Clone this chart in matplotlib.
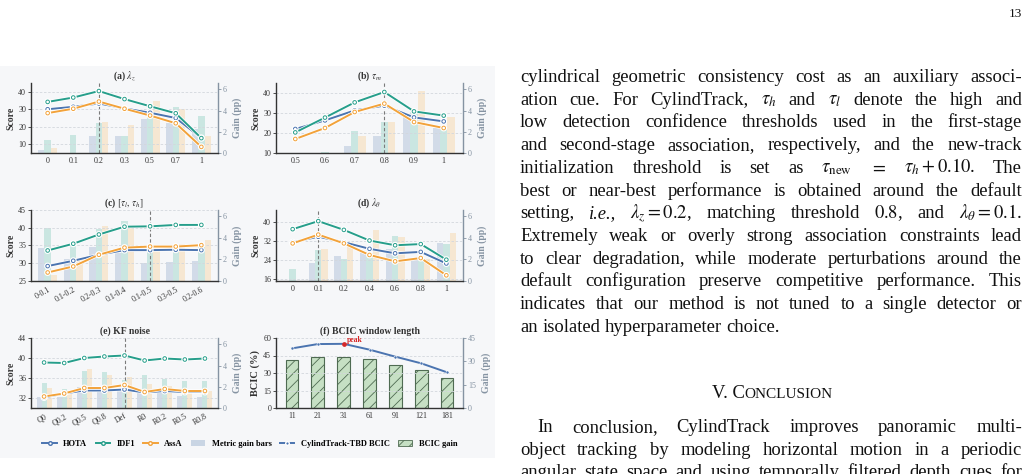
import matplotlib
matplotlib.use("Agg")
import matplotlib.pyplot as plt
import matplotlib.patheffects as pe
from matplotlib.patches import Rectangle, Patch
from matplotlib.lines import Line2D
import numpy as np

plt.rcParams['font.family'] = ['Liberation Serif', 'DejaVu Serif']
plt.rcParams['mathtext.fontset'] = 'stix'
plt.rcParams['hatch.linewidth'] = 0.6

W, H = 1031, 474

# ---- data ----
a_labels = ["0", "0.1", "0.2", "0.3", "0.5", "0.7", "1"]
a_hota = [30.0, 31.4, 33.3, 30.5, 28.0, 25.0, 13.6]
a_idf1 = [34.2, 36.7, 40.4, 35.8, 31.7, 27.7, 13.5]
a_assa = [27.8, 30.3, 34.4, 30.3, 26.4, 22.0, 8.5]
a_g_hota = [0.25, 0.0, 1.6, 1.6, 3.2, 2.8, 2.3]
a_g_idf1 = [1.2, 1.7, 2.8, 1.65, 3.8, 4.3, 3.5]
a_g_assa = [0.5, 0.0, 2.9, 2.6, 4.9, 4.15, 1.6]

b_labels = ["0.5", "0.6", "0.7", "0.8", "0.9", "1"]
b_hota = [22.0, 26.3, 31.3, 33.7, 27.8, 25.8]
b_idf1 = [20.3, 27.7, 35.3, 40.5, 30.8, 28.7]
b_assa = [17.0, 22.5, 30.5, 34.7, 25.5, 22.5]
b_g_hota = [0.0, 0.0, 0.7, 1.65, 3.6, 2.4]
b_g_idf1 = [0.0, 0.1, 2.05, 2.9, 3.9, 2.5]
b_g_assa = [0.0, 0.0, 1.65, 2.95, 5.8, 3.35]

c_labels = ["0-0.1", "0.1-0.2", "0.2-0.3", "0.1-0.4", "0.1-0.5", "0.3-0.5", "0.2-0.6"]
c_hota = [29.2, 30.7, 32.4, 33.7, 33.7, 33.8, 33.7]
c_idf1 = [33.6, 35.5, 38.1, 40.3, 40.4, 40.8, 40.8]
c_assa = [27.4, 29.1, 32.4, 34.4, 34.7, 34.7, 35.1]
c_g_hota = [3.1, 2.05, 3.2, 2.6, 1.65, 1.8, 1.85]
c_g_idf1 = [4.9, 3.6, 4.8, 5.55, 3.0, 3.05, 3.2]
c_g_assa = [0.6, 2.1, 5.15, 5.1, 2.9, 3.45, 3.85]

d_labels = ["0", "0.1", "0.2", "0.4", "0.6", "0.8", "1"]
d_hota = [31.4, 33.7, 31.4, 28.6, 26.7, 27.3, 22.4]
d_idf1 = [36.9, 40.3, 36.6, 32.1, 30.1, 30.6, 24.0]
d_assa = [30.9, 34.6, 30.9, 26.0, 23.3, 24.7, 17.4]
d_g_hota = [0.0, 1.7, 2.3, 2.65, 3.0, 2.1, 3.55]
d_g_idf1 = [1.1, 2.9, 2.0, 2.6, 4.2, 2.3, 3.4]
d_g_assa = [0.0, 3.0, 3.6, 4.7, 4.05, 2.0, 4.5]

e_labels = ["Q0", "Q0.2", "Q0.5", "Q0.8", "Def", "R0", "R0.2", "R0.5", "R0.8"]
e_hota = [32.1, 32.9, 33.5, 33.5, 33.7, 33.1, 33.4, 33.2, 33.2]
e_idf1 = [39.1, 39.0, 40.0, 40.3, 40.5, 39.5, 39.9, 39.7, 39.9]
e_assa = [32.3, 32.9, 34.0, 34.0, 34.6, 33.2, 33.8, 33.4, 33.4]
e_g_hota = [1.0, 1.0, 2.0, 1.7, 1.7, 1.5, 1.4, 1.15, 1.0]
e_g_idf1 = [2.4, 1.8, 3.45, 3.4, 2.65, 3.1, 2.75, 2.55, 2.5]
e_g_assa = [1.9, 1.35, 3.7, 3.1, 2.95, 2.3, 2.1, 1.6, 1.6]

f_labels = ["11", "21", "31", "61", "91", "121", "181"]
f_bcic = [51.1, 54.8, 55.0, 50.0, 44.0, 38.3, 30.6]
f_gain = [30.9, 32.8, 32.8, 31.5, 27.4, 24.2, 19.3]

# a leading "*" marks an italic word
body_lines = [
    "cylindrical geometric consistency cost as an auxiliary associ-",
    r"ation cue. For CylindTrack, $\tau_h$ and $\tau_l$ denote the high and",
    "low detection confidence thresholds used in the first-stage",
    "and second-stage association, respectively, and the new-track",
    r"initialization threshold is set as $\tau_{\mathrm{new}}$ $=$ $\tau_h+0.10$. The",
    "best or near-best performance is obtained around the default",
    r"setting, *i.e., $\lambda_z=0.2$, matching threshold $0.8$, and $\lambda_\theta=0.1$.",
    "Extremely weak or overly strong association constraints lead",
    "to clear degradation, while moderate perturbations around the",
    "default configuration preserve competitive performance. This",
    "indicates that our method is not tuned to a single detector or",
    "an isolated hyperparameter choice.",
]
concl_lines = [
    "In conclusion, CylindTrack improves panoramic multi-",
    "object tracking by modeling horizontal motion in a periodic",
    "angular state space and using temporally filtered depth cues for",
]

C_HOTA, C_IDF1, C_ASSA = '#4b74b0', '#269e8b', '#f2a23a'
B_HOTA, B_IDF1, B_ASSA = '#c9d5e4', '#bfe2dc', '#f7e3c9'
GRAY_R = '#8593a2'
DARK = '#333333'

fig = plt.figure(figsize=(W / 100, H / 100), dpi=100)
fig.patches.append(Rectangle((0, 1 - 458 / H), 495 / W, (458 - 66) / H,
                             transform=fig.transFigure, facecolor='#f6f7f9',
                             edgecolor='none', zorder=-5))


def px_axes(l, t, r, b):
    return fig.add_axes([l / W, 1 - b / H, (r - l) / W, (b - t) / H])


def style_axes(ax, ax2, n, ylim, yticks, rylim, rticks, ylabel, title, rot=0):
    ax.set_xlim(-0.65, n - 1 + 0.65)
    ax.set_ylim(*ylim)
    ax.set_yticks(yticks)
    ax2.set_ylim(*rylim)
    ax2.set_yticks(rticks)
    ax.grid(axis='y', color='#d3d7dd', ls=(0, (3, 2)), lw=0.6)
    ax.set_axisbelow(True)
    for s in ['top', 'right']:
        ax.spines[s].set_visible(False)
    for s in ['top', 'left', 'bottom']:
        ax2.spines[s].set_visible(False)
    ax.spines['left'].set_color(DARK)
    ax.spines['bottom'].set_color(DARK)
    ax.spines['left'].set_linewidth(1.0)
    ax.spines['bottom'].set_linewidth(1.0)
    ax2.spines['right'].set_color(GRAY_R)
    ax2.spines['right'].set_linewidth(1.0)
    ax.tick_params(axis='y', labelsize=5.8, colors=DARK, length=2, width=0.6, pad=1.5)
    ax.tick_params(axis='x', labelsize=5.8, colors=DARK, length=0, pad=3)
    ax2.tick_params(axis='y', labelsize=5.8, colors=GRAY_R, length=2, width=0.6, pad=1.5)
    if rot:
        plt.setp(ax.get_xticklabels(), rotation=rot, ha='right', rotation_mode='anchor')
    ax.set_ylabel(ylabel, fontsize=7, fontweight='bold', color=DARK, labelpad=2)
    ax2.set_ylabel("Gain (pp)", fontsize=7, fontweight='bold', color=GRAY_R, labelpad=4)
    ax.set_title(title, fontsize=7, fontweight='bold', color=DARK, pad=3)
    ax.set_zorder(ax2.get_zorder() + 1)
    ax.patch.set_visible(False)
    ax2.patch.set_visible(False)


def metric_panel(box, labels, hota, idf1, assa, gh, gi, ga, default_idx,
                 ylim, yticks, title, rot=0):
    ax = px_axes(*box)
    ax2 = ax.twinx()
    x = np.arange(len(labels))
    w = 0.25
    ax2.bar(x - w, gh, w, color=B_HOTA, alpha=0.8, zorder=1)
    ax2.bar(x, gi, w, color=B_IDF1, alpha=0.8, zorder=1)
    ax2.bar(x + w, ga, w, color=B_ASSA, alpha=0.8, zorder=1)
    ax.axvline(default_idx, color='#7b7b7b', ls=(0, (3, 2)), lw=0.8, zorder=1)
    for vals, c in [(hota, C_HOTA), (idf1, C_IDF1), (assa, C_ASSA)]:
        ax.plot(x, vals, color=c, lw=1.4, marker='o', ms=2.6, mfc='white',
                mec=c, mew=0.7, zorder=3,
                path_effects=[pe.Stroke(linewidth=2.4, foreground='white'), pe.Normal()])
    ax.set_xticks(x)
    ax.set_xticklabels(labels)
    style_axes(ax, ax2, len(labels), ylim, yticks, (0, 6.6), [0, 2, 4, 6],
               "Score", title, rot)
    return ax


metric_panel((31, 83, 218, 153), a_labels, a_hota, a_idf1, a_assa,
             a_g_hota, a_g_idf1, a_g_assa, 2, (5, 45), [10, 20, 30, 40],
             r"(a) $\lambda_z$")
metric_panel((276, 83, 463, 153), b_labels, b_hota, b_idf1, b_assa,
             b_g_hota, b_g_idf1, b_g_assa, 3, (10, 45), [10, 20, 30, 40],
             r"(b) $\tau_m$")
metric_panel((31, 210, 218, 281), c_labels, c_hota, c_idf1, c_assa,
             c_g_hota, c_g_idf1, c_g_assa, 4, (25, 45), [25, 30, 35, 40, 45],
             r"(c) $[\tau_l,\,\tau_h]$", rot=30)
metric_panel((276, 210, 463, 281), d_labels, d_hota, d_idf1, d_assa,
             d_g_hota, d_g_idf1, d_g_assa, 1, (15, 45), [16, 24, 32, 40],
             r"(d) $\lambda_\theta$")
metric_panel((31, 338, 218, 408), e_labels, e_hota, e_idf1, e_assa,
             e_g_hota, e_g_idf1, e_g_assa, 4, (30, 44), [32, 36, 40, 44],
             "(e) KF noise", rot=30)

# (f) BCIC window length
axf = px_axes(276, 338, 463, 408)
axf2 = axf.twinx()
xf = np.arange(len(f_labels))
axf2.bar(xf, f_gain, 0.5, color='#c6e0c4', edgecolor='#4f6b52', hatch='///',
         lw=0.8, zorder=1)
axf.plot(xf, f_bcic, color=C_HOTA, lw=1.4, marker='o', ms=2.2, mfc=C_HOTA,
         mec='white', mew=0.4, zorder=3)
pk = int(np.argmax(f_bcic))
axf.plot([xf[pk]], [f_bcic[pk]], 'o', color='#d62728', ms=2.4, zorder=4)
axf.text(xf[pk] + 0.12, f_bcic[pk] + 3.5, "peak", color='#d62728', fontsize=5.5,
         fontweight='bold', ha='left', va='center', zorder=5)
axf.set_xticks(xf)
axf.set_xticklabels(f_labels)
style_axes(axf, axf2, len(f_labels), (0, 60), [0, 15, 30, 45, 60], (0, 45),
           [0, 15, 30, 45], "BCIC (%)", "(f) BCIC window length")
axf.set_xlim(-0.62, len(f_labels) - 1 + 0.62)
axf.yaxis.label.set_fontsize(7.5)

# legend
handles = [
    Line2D([], [], color=C_HOTA, lw=1.4, marker='o', ms=2.6, mfc='white', mec=C_HOTA),
    Line2D([], [], color=C_IDF1, lw=1.4, marker='o', ms=2.6, mfc='white', mec=C_IDF1),
    Line2D([], [], color=C_ASSA, lw=1.4, marker='o', ms=2.6, mfc='white', mec=C_ASSA),
    Patch(facecolor=B_HOTA, edgecolor='none'),
    Line2D([], [], color=C_HOTA, lw=1.4, marker='o', ms=2.6, mfc=C_HOTA, mec='white'),
    Patch(facecolor='#c6e0c4', edgecolor='#4f6b52', hatch='///', lw=0.6),
]
names = ["HOTA", "IDF1", "AssA", "Metric gain bars", "CylindTrack-TBD BCIC", "BCIC gain"]
fig.legend(handles, names, loc='center', bbox_to_anchor=(250 / W, 1 - 444 / H),
           ncol=6, frameon=False, prop={'size': 6, 'weight': 'bold'},
           handlelength=1.7, handletextpad=0.8, columnspacing=1.0)

# ---- page text on the right ----
renderer = fig.canvas.get_renderer()
FS = 13.4


def put_line(text, y, x0=520, x1=1022, justify=True, size=FS):
    words = text.split(" ")
    objs = []
    for wd in words:
        style = 'normal'
        if wd.startswith("*"):
            wd, style = wd[1:], 'italic'
        objs.append(fig.text(0, 0, wd, fontsize=size, va='baseline', ha='left',
                             color='#111111', fontstyle=style))
    widths = [o.get_window_extent(renderer).width for o in objs]
    if justify and len(words) > 1:
        gap = (x1 - x0 - sum(widths)) / (len(words) - 1)
    else:
        gap = size * 100 / 72 * 0.25
    x = x0
    for o, wd in zip(objs, widths):
        o.set_position((x / W, 1 - y / H))
        x += wd + gap


for i, line in enumerate(body_lines):
    put_line(line, 82 + 22.7 * i, justify=(i < len(body_lines) - 1))

# section heading in small caps
t1 = fig.text(0, 0, "V. C", fontsize=FS, va='baseline', color='#111111')
t2 = fig.text(0, 0, "ONCLUSION", fontsize=FS * 0.82, va='baseline', color='#111111')
w1 = t1.get_window_extent(renderer).width
w2 = t2.get_window_extent(renderer).width
hx = 772 - (w1 + w2) / 2
t1.set_position((hx / W, 1 - 398 / H))
t2.set_position(((hx + w1) / W, 1 - 398 / H))

for i, line in enumerate(concl_lines):
    put_line(line, 432 + 22.7 * i, x0=537 if i == 0 else 520)

fig.text(1022 / W, 1 - 17 / H, "13", fontsize=9.5, ha='right', va='baseline',
         color='#111111')

fig.savefig("out.png", dpi=100)
